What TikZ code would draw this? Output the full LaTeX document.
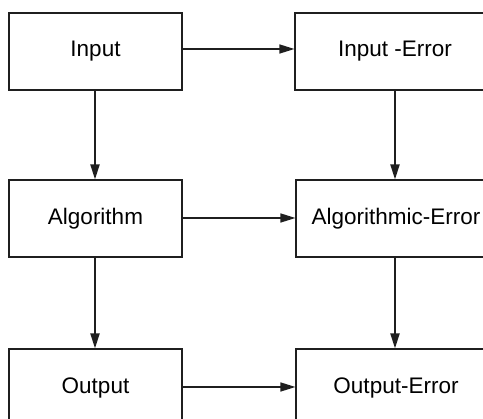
\documentclass[tikz,border=0pt]{standalone}
\usepackage{fontspec}
\setmainfont{Liberation Sans}
\usetikzlibrary{arrows.meta}

\begin{document}
\begin{tikzpicture}[x=1pt,y=-1pt,
		box/.style={draw=black!88,line width=1.1pt,minimum width=173pt,minimum height=77pt,inner sep=0pt,font=\fontsize{22.5}{27}\selectfont},
		errbox/.style={box,minimum width=200pt},
		flow/.style={draw=black!88,line width=1.4pt,-{Triangle[length=15pt,width=9pt]}},
		down/.style={flow,line width=2pt}]
	\useasboundingbox (0,0) rectangle (483,419);
	\clip (0,0) rectangle (483,419);
	% left column
	\node[box] (in) at (95.5,51.5) {Input};
	\node[box] (alg) at (95.5,218.5) {Algorithm};
	\node[box] (out) at (95.5,387.5) {Output};
	% right column
	\node[errbox] (inerr) at (395,51.5) {Input -Error};
	\node[errbox] (algerr) at (396,218.5) {Algorithmic-Error};
	\node[errbox] (outerr) at (396,387.5) {Output-Error};
	% connectors
	\draw[flow] (in.east |- 0,49) -- (inerr.west |- 0,49);
	\draw[flow] (alg.east |- 0,218) -- (algerr.west |- 0,218);
	\draw[flow] (out.east |- 0,387) -- (outerr.west |- 0,387);
	\draw[down] (in.south -| 95,0) -- (alg.north -| 95,0);
	\draw[down] (alg.south -| 95,0) -- (out.north -| 95,0);
	\draw[down] (inerr.south -| 395,0) -- (algerr.north -| 395,0);
	\draw[down] (algerr.south -| 395,0) -- (outerr.north -| 395,0);
\end{tikzpicture}
\end{document}
